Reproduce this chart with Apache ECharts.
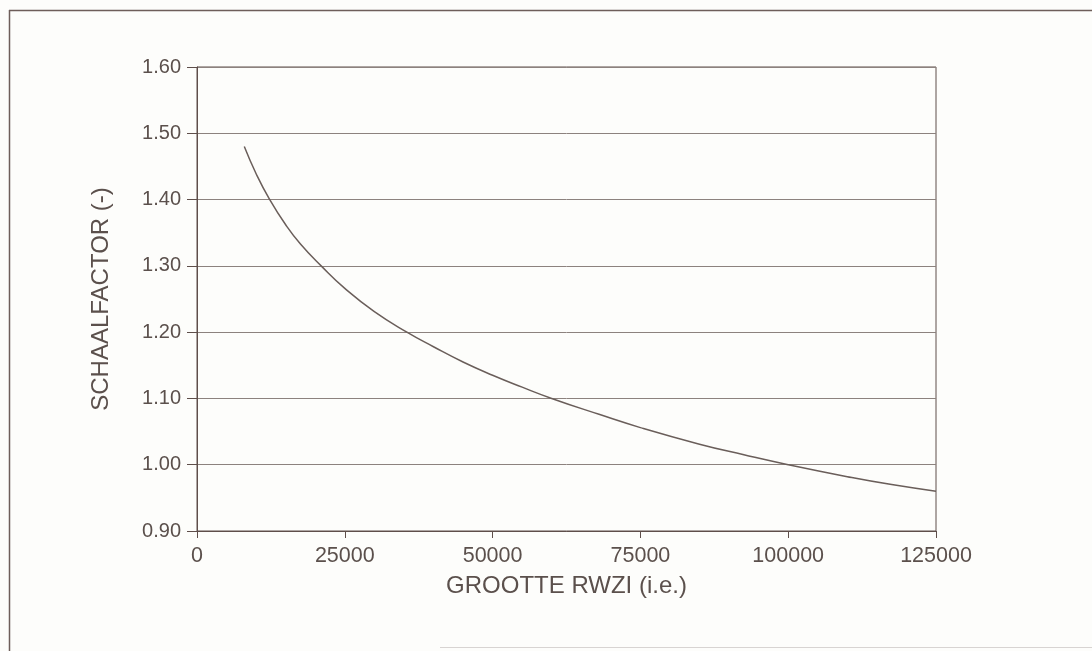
<!DOCTYPE html>
<html>
<head>
<meta charset="utf-8">
<script src="https://cdn.jsdelivr.net/npm/echarts@6/dist/echarts.min.js"></script>
<style>
html,body{margin:0;padding:0;background:#fdfdfb;}
#c{width:1092px;height:651px;}
</style>
</head>
<body>
<div id="c"></div>
<script>
// Data
var sizes = [8000, 10000, 12300, 15000, 17500, 21000, 25000, 30000, 35500, 40000, 45000, 50000, 55000, 60000, 68000, 75000, 85000, 92500, 100000, 110000, 117500, 125000];
var factors = [1.48, 1.439, 1.40, 1.362, 1.333, 1.30, 1.266, 1.231, 1.20, 1.178, 1.155, 1.135, 1.117, 1.10, 1.076, 1.056, 1.031, 1.015, 1.00, 0.982, 0.970, 0.96];
var xTitle = 'GROOTTE RWZI (i.e.)';
var yTitle = 'SCHAALFACTOR (-)';

var pts = sizes.map(function (s, i) { return [s, factors[i]]; });
var fontFam = '"Liberation Sans", Arial, sans-serif';
var txt = '#5b504c';
var axisCol = '#5e4e4a';

var chart = echarts.init(document.getElementById('c'), null, {renderer: 'canvas'});
chart.setOption({
  backgroundColor: '#fdfdfb',
  animation: false,
  grid: {
    left: 197, top: 67, right: 156, bottom: 120,
    show: true, borderColor: axisCol, borderWidth: 1,
    outerBoundsMode: 'none', containLabel: false
  },
  graphic: [
    {type: 'line', shape: {x1: 9.5, y1: 10, x2: 9.5, y2: 651}, style: {stroke: '#6e5e5a', lineWidth: 1.5}},
    {type: 'line', shape: {x1: 9, y1: 10.5, x2: 1092, y2: 10.5}, style: {stroke: '#6e5e5a', lineWidth: 1.5}},
    {type: 'line', shape: {x1: 440, y1: 647.5, x2: 1092, y2: 647.5}, style: {stroke: '#d8d4d2', lineWidth: 1}}
  ],
  xAxis: {
    type: 'value', min: 0, max: 125000, interval: 25000,
    name: xTitle, nameLocation: 'middle', nameGap: 43,
    nameTextStyle: {color: txt, fontSize: 24, fontFamily: fontFam},
    axisLine: {show: true, lineStyle: {color: axisCol, width: 1}},
    axisTick: {show: true, inside: false, length: 7, lineStyle: {color: axisCol}},
    axisLabel: {color: txt, fontSize: 21.5, fontFamily: fontFam, margin: 14,
      formatter: function (v) { return String(v); }},
    splitLine: {show: false}
  },
  yAxis: {
    type: 'value', min: 0.9, max: 1.6, interval: 0.1,
    name: yTitle, nameLocation: 'middle', nameGap: 84,
    nameTextStyle: {color: txt, fontSize: 24, fontFamily: fontFam},
    axisLine: {show: true, lineStyle: {color: axisCol, width: 1}},
    axisTick: {show: true, inside: false, length: 10, lineStyle: {color: axisCol}},
    axisLabel: {color: txt, fontSize: 20, fontFamily: fontFam, margin: 16,
      formatter: function (v) { return v.toFixed(2); }},
    splitLine: {show: true, lineStyle: {color: '#8c827e', width: 1}}
  },
  series: [{
    type: 'line', data: pts, smooth: 0.5, showSymbol: false, symbol: 'none',
    lineStyle: {color: '#6a5e5a', width: 1.5}
  }]
});
</script>
</body>
</html>
